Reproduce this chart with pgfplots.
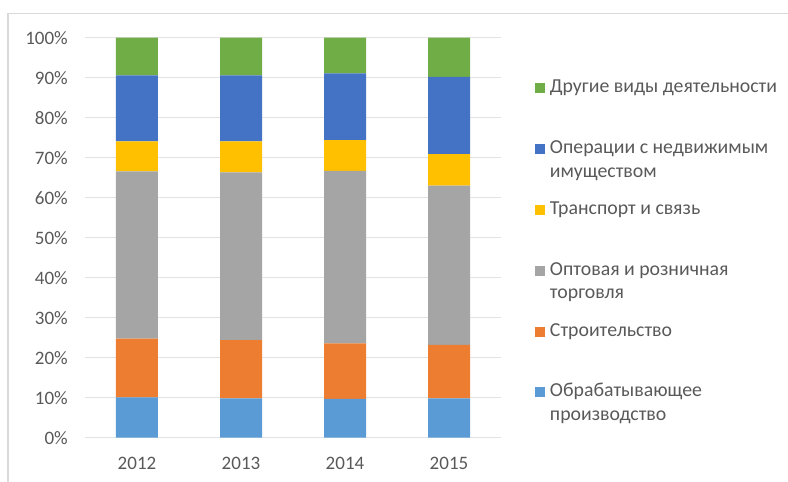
\documentclass[border=0pt]{standalone}
\usepackage{pgfplots}
\pgfplotsset{compat=1.18}
\usepackage{fontspec}
\setmainfont{Carlito}
\definecolor{cManuf}{HTML}{5B9BD5}
\definecolor{cConstr}{HTML}{ED7D31}
\definecolor{cTrade}{HTML}{A5A5A5}
\definecolor{cTrans}{HTML}{FFC000}
\definecolor{cReal}{HTML}{4472C4}
\definecolor{cOther}{HTML}{70AD47}
\definecolor{txt}{HTML}{595959}
\definecolor{gridc}{HTML}{E3E3E3}
\definecolor{borderc}{HTML}{D9D9D9}
\newcommand{\leg}[1]{\raisebox{0pt}[12bp][0pt]{\begin{tabular}[t]{@{}l@{}}#1\end{tabular}}}
\begin{document}
\fontsize{19bp}{23bp}\selectfont
\begin{tikzpicture}
\path[use as bounding box] (-85bp,-44.3bp) rectangle (703bp,437.7bp);
\draw[borderc, line width=1.3bp] (-77bp,-44.3bp) -- (-77bp,424.2bp) -- (703bp,424.2bp);
\begin{axis}[
  at={(0,0)}, anchor=south west,
  width=416bp, height=400bp, scale only axis,
  ybar stacked, bar width=42bp,
  xmin=-0.5, xmax=3.5, ymin=0, ymax=100,
  xtick={0,1,2,3}, xticklabels={2012,2013,2014,2015},
  ytick={0,10,...,100},
  yticklabel={\pgfmathprintnumber{\tick}\%},
  /pgf/number format/assume math mode=true,
  major tick length=0pt,
  axis line style={draw=none},
  ymajorgrids, grid style={gridc, line width=1bp},
  tick label style={font=\fontsize{19bp}{23bp}\selectfont, text=txt},
  x tick label style={inner sep=0pt, anchor=north, yshift=-19.3bp},
  y tick label style={inner sep=0pt, anchor=east, xshift=-17bp},
  reverse legend,
  legend image code/.code={\fill[#1, draw=none] (0bp,-5bp) rectangle (10bp,5bp);},
  legend style={at={(axis description cs:1.0817,0.8925)}, anchor=north west,
    draw=none, fill=none, inner sep=0pt, outer sep=0pt,
    row sep=46bp, column sep=5bp,
    font=\fontsize{19.8bp}{23.7bp}\selectfont, text=txt,
    cells={anchor=west}, nodes={inner sep=0pt}},
]
\addplot[fill=cManuf, draw=none] coordinates {(0,10.1) (1,9.85) (2,9.7) (3,9.85)};
\addlegendentry{\leg{Обрабатывающее\\производство}}
\addplot[fill=cConstr, draw=none] coordinates {(0,14.65) (1,14.55) (2,13.9) (3,13.35)};
\addlegendentry{\leg{Строительство}}
\addplot[fill=cTrade, draw=none] coordinates {(0,41.85) (1,41.9) (2,43.1) (3,39.8)};
\addlegendentry{\leg{Оптовая и розничная\\торговля}}
\addplot[fill=cTrans, draw=none] coordinates {(0,7.5) (1,7.8) (2,7.7) (3,7.9)};
\addlegendentry{\leg{Транспорт и связь}}
\addplot[fill=cReal, draw=none] coordinates {(0,16.5) (1,16.5) (2,16.7) (3,19.3)};
\addlegendentry{\leg{Операции с недвижимым\\имуществом}}
\addplot[fill=cOther, draw=none] coordinates {(0,9.4) (1,9.4) (2,8.9) (3,9.8)};
\addlegendentry{\leg{Другие виды деятельности}}
\end{axis}
\end{tikzpicture}
\end{document}
